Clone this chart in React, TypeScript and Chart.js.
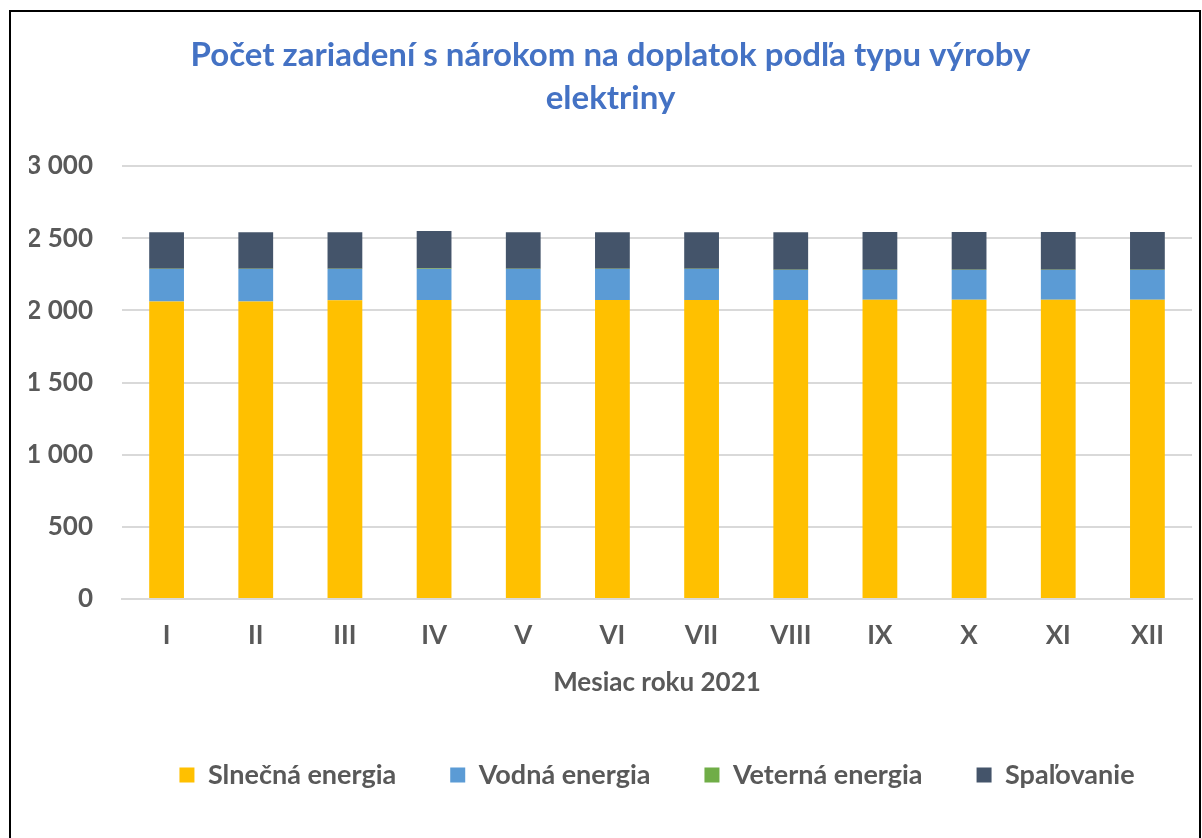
import React, { useEffect, useRef } from "react";
import { Chart, registerables } from "chart.js";

Chart.register(...registerables);

const months = ["I", "II", "III", "IV", "V", "VI", "VII", "VIII", "IX", "X", "XI", "XII"];
const solar = [2062, 2062, 2070, 2071, 2071, 2072, 2072, 2072, 2073, 2073, 2073, 2073];
const hydro = [224, 224, 216, 216, 215, 214, 214, 207, 206, 206, 206, 206];
const wind = [3, 3, 3, 3, 3, 3, 3, 3, 3, 3, 3, 3];
const combustion = [252, 252, 252, 260, 252, 252, 252, 259, 260, 260, 260, 260];

const titleLines = ["Počet zariadení s nárokom na doplatok podľa typu výroby", "elektriny"];
const xTitle = "Mesiac roku 2021";
const seriesNames = ["Slnečná energia", "Vodná energia", "Veterná energia", "Spaľovanie"];
const seriesColors = ["#FFC000", "#5B9BD5", "#70AD47", "#44546A"];

const FONT = "Lato, 'Open Sans', sans-serif";
const GRAY = "#595959";

export default function App() {
  const ref = useRef<HTMLCanvasElement | null>(null);
  useEffect(() => {
    if (!ref.current) return;
    const data = [solar, hydro, wind, combustion];
    const chart = new Chart(ref.current, {
      type: "bar",
      data: {
        labels: months,
        datasets: seriesNames.map((name, i) => ({
          label: name,
          data: data[i],
          backgroundColor: seriesColors[i],
          borderWidth: 0,
          barPercentage: 0.39,
          categoryPercentage: 1,
        })),
      },
      options: {
        responsive: false,
        animation: false,
        layout: { padding: { left: 18, right: 7, top: 0, bottom: 49.5 } },
        plugins: {
          title: {
            display: true,
            text: titleLines,
            color: "#4472C4",
            font: { family: FONT, size: 33, weight: "bold", lineHeight: 1.303 },
            padding: { top: 21.5, bottom: 46.5 },
          },
          legend: {
            position: "bottom",
            fullSize: false,
            labels: {
              boxWidth: 15,
              boxHeight: 15,
              padding: 54,
              color: GRAY,
              font: { family: FONT, size: 27, weight: "bold" },
            },
          },
          tooltip: { enabled: false },
        },
        scales: {
          x: {
            stacked: true,
            grid: { display: false, drawTicks: false },
            border: { display: true, color: "#d9d9d9", width: 2 },
            ticks: {
              color: GRAY,
              padding: 21,
              font: { family: FONT, size: 26, weight: "bold" },
            },
            title: {
              display: true,
              text: xTitle,
              color: GRAY,
              font: { family: FONT, size: 26, weight: "bold" },
              padding: { top: -5, bottom: 9 },
            },
          },
          y: {
            stacked: true,
            min: 0,
            max: 3000,
            afterFit: (scale: any) => {
              scale.width = 93;
            },
            grid: { color: "#d9d9d9", lineWidth: 2, drawTicks: false },
            border: { display: false },
            ticks: {
              stepSize: 500,
              color: GRAY,
              padding: 29,
              font: { family: FONT, size: 26, weight: "bold" },
              callback: (v: any) => String(v).replace(/\B(?=(\d{3})+(?!\d))/g, " "),
            },
          },
        },
      },
    });
    return () => chart.destroy();
  }, []);
  return (
    <div
      style={{
        position: "fixed",
        left: 9,
        top: 10,
        width: 1192,
        height: 840,
        border: "2px solid #000",
        boxSizing: "border-box",
        background: "#fff",
        overflow: "hidden",
      }}
    >
      <canvas ref={ref} width={1188} height={836} style={{ display: "block" }} />
    </div>
  );
}
